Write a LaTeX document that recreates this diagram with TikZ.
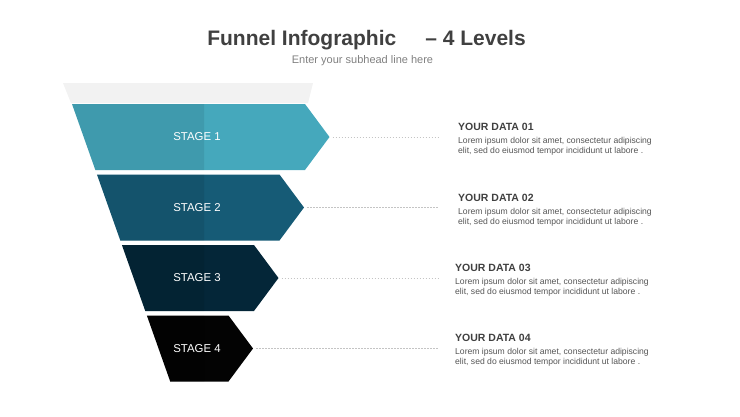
\documentclass[tikz,border=0pt]{standalone}
\usepackage{fontspec}
\setmainfont{Liberation Sans}
\usepackage{xcolor}
\usetikzlibrary{positioning,calc}
\definecolor{stageA}{HTML}{45A8BC}
\definecolor{stageB}{HTML}{165B76}
\definecolor{stageC}{HTML}{042638}
\definecolor{stageD}{HTML}{030303}
\definecolor{bandgray}{HTML}{F2F2F2}
\definecolor{headgray}{HTML}{404040}
\definecolor{subgray}{HTML}{808080}
\definecolor{textgray}{HTML}{555555}
\definecolor{leadgray}{HTML}{C4C4C4}
\tikzset{
maintitle/.style={anchor=base, text=headgray, font=\fontsize{21}{24}\selectfont\bfseries},
subhead/.style={anchor=base, text=subgray, font=\fontsize{11}{13}\selectfont},
stagelabel/.style={text=white, font=\fontsize{11.4}{13}\selectfont},
datahead/.style={anchor=base west, inner sep=0pt, text=headgray, font=\fontsize{10.5}{12}\selectfont\bfseries},
datatext/.style={anchor=base west, inner sep=0pt, align=left, text=textgray, font=\fontsize{8.6}{10}\selectfont},
leader/.style={leadgray, line width=0.6pt, dash pattern=on 1.5pt off 1.5pt, shorten <=3pt}}

\begin{document}
\begin{tikzpicture}[x=1pt, y=-1pt]
    \useasboundingbox (0,0) rectangle (740,416);

    % Title
    \node[maintitle] (title) at (366.5,45) {Funnel Infographic\hspace{29pt}– 4 Levels};
    \node[subhead] (sub) at (362.5,63) {Enter your subhead line here};

    % Funnel
    \fill[bandgray] (63,83) -- (313,83) -- (308,103) -- (71,103) -- cycle;
    \foreach \i/\col in {1/stageA,2/stageB,3/stageC,4/stageD} {
      \pgfmathsetmacro{\sTop}{104+70.5*(\i-1)}
      \pgfmathsetmacro{\sBot}{\sTop+66}
      \pgfmathsetmacro{\sMid}{\sTop+33}
      \pgfmathsetmacro{\sLt}{72+(\sTop-104)*0.354}
      \pgfmathsetmacro{\sLb}{72+(\sBot-104)*0.354}
      \pgfmathsetmacro{\sRt}{305-25.5*(\i-1)}
      \fill[\col] (\sLt,\sTop) -- (\sRt,\sTop) -- (\sRt+24.5,\sMid) -- (\sRt,\sBot) -- (\sLb,\sBot) -- cycle;
      \fill[black, opacity=.08] (\sLt,\sTop) -- (204,\sTop) -- (204,\sBot) -- (\sLb,\sBot) -- cycle;
      \coordinate (tip\i) at (\sRt+24.5,\sMid);
      \coordinate (e\i) at (439,\sMid);
      \node[stagelabel] (s\i) at (197,\sMid) {STAGE \i};
    }

    % Data
    \foreach \i/\dx/\dy in {1/458/130,2/458/201,3/455/271,4/455/341} {
      \node[datahead] (d\i) at (\dx,\dy) {YOUR DATA 0\i};
      \node[datatext] (t\i) at ([yshift=-23pt]d\i.base west)
        {Lorem ipsum dolor sit amet, consectetur adipiscing\\elit, sed do eiusmod tempor incididunt ut labore .};
    }

    % Leaders
    \foreach \i in {1,...,4}
      \draw[leader] (tip\i) -- (e\i);
  \end{tikzpicture}
\end{document}
